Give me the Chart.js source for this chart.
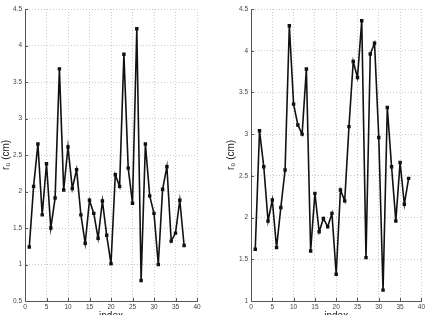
<!DOCTYPE html>
<html>
<head>
  <meta charset="UTF-8">
  <title>r0 by index</title>
  <script src="https://cdn.jsdelivr.net/npm/chart.js"></script>
  <style>
    html, body { margin: 0; padding: 0; background: #fff; overflow: hidden; }
    body { width: 427px; height: 315px; position: relative; }
    .box { position: absolute; top: 0; height: 323px; }
    #leftBox { left: 0; width: 213px; }
    #rightBox { left: 225px; width: 202px; }
  </style>
</head>
<body>
  <div class="box" id="leftBox"><canvas id="leftChart"></canvas></div>
  <div class="box" id="rightBox"><canvas id="rightChart"></canvas></div>

  <script>
    // index 1..37 for both panels
    const indices = Array.from({ length: 37 }, (_, i) => i + 1);

    const leftValues = [1.24, 2.07, 2.65, 1.68, 2.38, 1.50, 1.91, 3.68, 2.02, 2.61,
      2.04, 2.30, 1.68, 1.29, 1.88, 1.70, 1.36, 1.87, 1.40, 1.01,
      2.23, 2.07, 3.88, 2.32, 1.84, 4.23, 0.78, 2.65, 1.94, 1.70,
      1.00, 2.03, 2.34, 1.32, 1.43, 1.88, 1.26];

    const rightValues = [1.62, 3.04, 2.61, 1.96, 2.21, 1.64, 2.12, 2.57, 4.30, 3.36,
      3.11, 3.00, 3.78, 1.60, 2.29, 1.83, 1.99, 1.89, 2.05, 1.32,
      2.33, 2.20, 3.09, 3.87, 3.68, 4.36, 1.52, 3.96, 4.09, 2.96,
      1.13, 3.32, 2.61, 1.96, 2.66, 2.16, 2.47];

    const xTicks = [0, 5, 10, 15, 20, 25, 30, 35, 40];
    const leftYTicks = [0.5, 1, 1.5, 2, 2.5, 3, 3.5, 4, 4.5];
    const rightYTicks = [1, 1.5, 2, 2.5, 3, 3.5, 4, 4.5];

    // small inward tick marks like the original
    const innerTicks = {
      id: 'innerTicks',
      afterDatasetsDraw(chart) {
        const ctx = chart.ctx;
        const a = chart.chartArea;
        const x = chart.scales.x, y = chart.scales.y;
        ctx.save();
        ctx.strokeStyle = '#555';
        ctx.lineWidth = 1;
        ctx.beginPath();
        x.ticks.forEach((t, i) => {
          const px = Math.round(x.getPixelForTick(i)) + 0.5;
          ctx.moveTo(px, a.bottom); ctx.lineTo(px, a.bottom - 3);
        });
        y.ticks.forEach((t, i) => {
          const py = Math.round(y.getPixelForTick(i)) + 0.5;
          ctx.moveTo(a.left, py); ctx.lineTo(a.left + 3, py);
        });
        ctx.stroke();
        ctx.restore();
      }
    };

    const tickFont = { size: 6.5, family: 'Liberation Sans' };
    const titleFont = { size: 10, family: 'Liberation Sans' };

    function makeChart(id, values, yTicks, yMin, yMax, axisWidth, rightPad) {
      const ctx = document.getElementById(id).getContext('2d');
      return new Chart(ctx, {
        type: 'line',
        data: {
          labels: indices,
          datasets: [{
            data: indices.map((v, i) => ({ x: v, y: values[i] })),
            borderColor: '#111',
            borderWidth: 1.6,
            pointStyle: 'rect',
            pointRadius: 1.3,
            pointBackgroundColor: '#111',
            pointBorderColor: '#111',
            tension: 0,
            fill: false
          }]
        },
        options: {
          responsive: true,
          maintainAspectRatio: false,
          animation: false,
          layout: { padding: { top: 9, right: rightPad, left: 0, bottom: 0 } },
          plugins: { legend: { display: false }, tooltip: { enabled: false } },
          scales: {
            x: {
              type: 'linear', min: 0, max: 40,
              afterBuildTicks: s => { s.ticks = xTicks.map(v => ({ value: v })); },
              afterFit: s => { s.height = 22; },
              grid: { color: '#bbb', lineWidth: 0.8, drawTicks: false, tickLength: 0 },
              border: { display: true, color: '#555', width: 1, dash: [1, 2] },
              ticks: { color: '#444', font: tickFont, padding: 2, maxRotation: 0, callback: v => String(v) },
              title: { display: true, text: 'index', color: '#222', font: titleFont, padding: 1 }
            },
            y: {
              type: 'linear', min: yMin, max: yMax,
              afterBuildTicks: s => { s.ticks = yTicks.map(v => ({ value: v })); },
              afterFit: s => { s.width = axisWidth; },
              grid: { color: '#bbb', lineWidth: 0.8, drawTicks: false, tickLength: 0 },
              border: { display: true, color: '#555', width: 1, dash: [1, 2] },
              ticks: { color: '#444', font: tickFont, padding: 3, callback: v => String(v) },
              title: { display: true, text: 'r₀ (cm)', color: '#222', font: titleFont, padding: 0 }
            }
          }
        },
        plugins: [innerTicks]
      });
    }

    makeChart('leftChart', leftValues, leftYTicks, 0.5, 4.5, 25, 16);
    makeChart('rightChart', rightValues, rightYTicks, 1, 4.5, 26, 4);
  </script>
</body>
</html>
